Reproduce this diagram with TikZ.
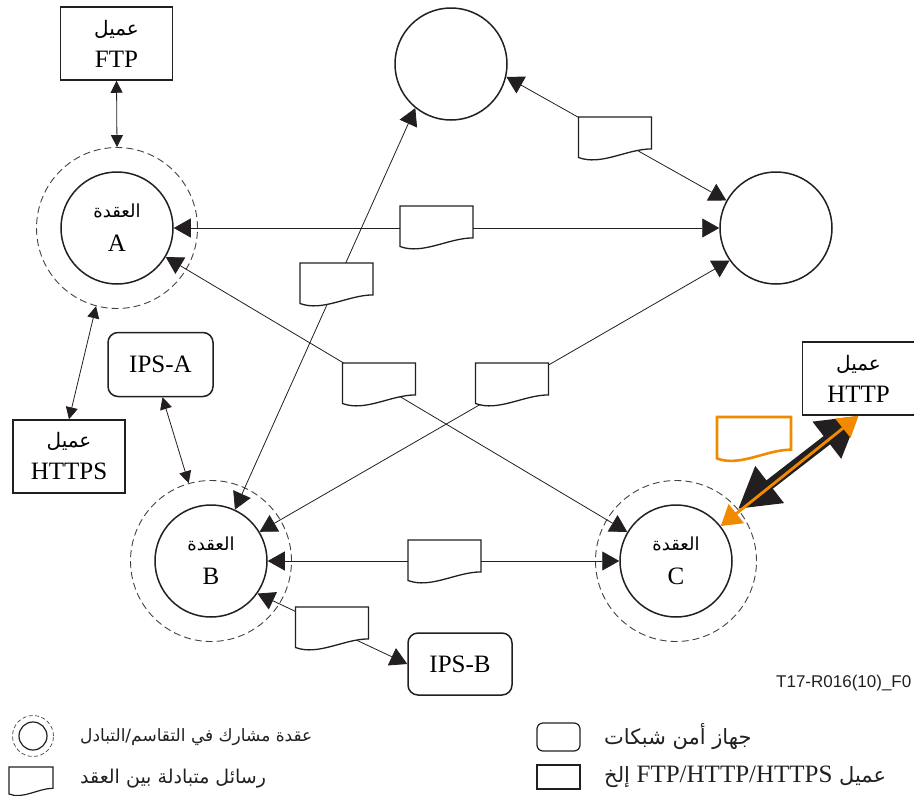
\documentclass[tikz,border=0pt]{standalone}
\usepackage{fontspec}
\setmainfont{Liberation Serif}
\newfontfamily\arabicfont[Script=Arabic]{DejaVu Sans}
\newfontfamily\sansfnt{Liberation Sans}
\TeXXeTstate=1
\usetikzlibrary{arrows.meta,calc}
\definecolor{ink}{HTML}{231F20}
\definecolor{orng}{HTML}{F28A00}
\newcommand\arfont[1]{\arabicfont\fontsize{#1}{22}\selectfont}
\newcommand\msgdraw[2]{%
  \filldraw[#2,fill=white] let \p1=(#1.south west), \p2=(#1.north east) in
  (\x1,\y2) -- (\x2,\y2) -- (\x2,{\y2-0.76*(\y2-\y1)})
  .. controls ({\x1+0.664*(\x2-\x1)},{\y2-0.76*(\y2-\y1)}) and ({\x1+0.31*(\x2-\x1)},{\y1-0.167*(\y2-\y1)}) ..
  (\x1,{\y1+0.036*(\y2-\y1)}) -- cycle;}
\tikzset{
  nd/.style={circle,draw=ink,line width=1.5pt,minimum size=112pt,inner sep=0pt,align=center,
    font=\fontsize{25}{34}\selectfont},
  ring/.style={circle,draw=ink!85,dash pattern=on 7pt off 4pt,line width=0.9pt,minimum size=161pt,inner sep=0pt},
  client/.style={rectangle,draw=ink,line width=1.5pt,minimum width=112pt,minimum height=73pt,inner sep=0pt,
    align=center,font=\fontsize{25}{32}\selectfont},
  ips/.style={rectangle,rounded corners=10pt,draw=ink,line width=1.5pt,minimum width=105pt,minimum height=64pt,
    inner sep=0pt,font=\fontsize{25}{30}\selectfont},
  msg/.style={minimum width=73pt,minimum height=42pt,inner sep=0pt,outer sep=0pt},
  link/.style={draw=ink,line width=0.8pt,{Triangle[length=17pt,width=19pt]}-{Triangle[length=17pt,width=19pt]}},
  clink/.style={draw=ink,line width=0.8pt,{Triangle[length=12pt,width=12pt]}-{Triangle[length=12pt,width=12pt]}},
  legend/.style={anchor=west,inner sep=0pt,text=ink},
}
\begin{document}
\begin{tikzpicture}[x=1pt,y=-1pt]
\useasboundingbox (0,0) rectangle (914,796);
% nodes
\node[ring] (Ao) at (117,228) {};
\node[nd] (A) at (117,228) {{\arfont{18}\beginR العقدة\endR}\\A};
\node[ring] (Bo) at (211,561) {};
\node[nd] (B) at (211,561) {{\arfont{18}\beginR العقدة\endR}\\B};
\node[ring] (Co) at (676,561) {};
\node[nd] (C) at (676,561) {{\arfont{18}\beginR العقدة\endR}\\C};
\node[nd] (D) at (451,64) {};
\node[nd] (E) at (776,228) {};
\node[client] (FTP) at (116.5,43.5) {{\arfont{20}\beginR عميل\endR}\\FTP};
\node[client] (HTTPS) at (69,456.5) {{\arfont{20}\beginR عميل\endR}\\HTTPS};
\node[client] (HTTP) at (858.5,378.5) {{\arfont{20}\beginR عميل\endR}\\HTTP};
\node[ips] (IPSA) at (160.5,364.5) {IPS-A};
\node[ips,minimum width=104pt,minimum height=62pt] (IPSB) at (460,664) {IPS-B};
% connectors
\draw[clink] (FTP.south) -- (Ao.north);
\draw[clink] (HTTPS.north) -- (Ao.255);
\draw[clink] ([xshift=2pt]IPSA.south) -- (Bo.106);
\draw[link] (A.east) -- (E.west);
\draw[link] (A) -- (C);
\draw[link] (B.65) -- (D.231);
\draw[link] (E.215) -- (B.31);
\draw[link] (D.347) -- (E.151);
\draw[link] (B.east) -- (C.west);
\draw[link] (B.325) -- (IPSB.west);
\draw[line width=10.5pt,ink,{Triangle[length=40pt 0 0,width=44pt 0 0]}-{Triangle[length=40pt 0 0,width=44pt 0 0]}] (HTTP.south) -- (Co.40);
\draw[line width=2.8pt,orng,{Triangle[length=20pt 0 0,width=24pt 0 0]}-{Triangle[length=20pt 0 0,width=24pt 0 0]}] (HTTP.south) -- (C.38);
% messages
\node[msg] (m1) at (336.5,284) {}; \msgdraw{m1}{draw=ink,line width=1.3pt}
\node[msg] (m2) at (436.5,227) {}; \msgdraw{m2}{draw=ink,line width=1.3pt}
\node[msg] (m3) at (379,384) {}; \msgdraw{m3}{draw=ink,line width=1.3pt}
\node[msg] (m4) at (512,384) {}; \msgdraw{m4}{draw=ink,line width=1.3pt}
\node[msg] (m5) at (615,138) {}; \msgdraw{m5}{draw=ink,line width=1.3pt}
\node[msg] (m6) at (444.5,561) {}; \msgdraw{m6}{draw=ink,line width=1.3pt}
\node[msg] (m7) at (332,628) {}; \msgdraw{m7}{draw=ink,line width=1.3pt}
\node[msg,minimum width=74pt,minimum height=43pt] (m8) at (754,438.5) {}; \msgdraw{m8}{draw=orng,line width=2.6pt}
% figure code
\node[legend,font=\sansfnt\fontsize{17}{20}\selectfont] (code) at (776,683) {T17-R016(10)\_F0};
% legend
\node[ring,minimum size=41pt,line width=0.7pt,dash pattern=on 4pt off 2.5pt] (Lring) at (33,736) {};
\node[nd,minimum size=28pt,line width=1.2pt] (Lnode) at (33,736) {};
\node[legend] (Lt1) at (80,737) {{\arfont{17}\beginR عقدة مشارك في التقاسم/التبادل\endR}};
\node[msg,minimum width=44pt,minimum height=28pt] (Lmsg) at (31,781) {}; \msgdraw{Lmsg}{draw=ink,line width=1.2pt}
\node[legend] (Lt2) at (80,779) {{\arfont{19}\beginR رسائل متبادلة بين العقد\endR}};
\node[ips,minimum width=43pt,minimum height=28pt,rounded corners=6pt,line width=1.2pt] (Lips) at (558.5,737) {};
\node[legend] (Lt3) at (604,737) {{\arfont{21}\beginR جهاز أمن شبكات\endR}};
\node[client,minimum width=43pt,minimum height=24pt,line width=1.2pt] (Lcl) at (558.5,777) {};
\node[legend] (Lt4) at (604,777) {{\arfont{21}\beginR عميل {\rmfamily\fontsize{25}{28}\selectfont\beginL FTP/HTTP/HTTPS\endL} إلخ\endR}};
\end{tikzpicture}
\end{document}
